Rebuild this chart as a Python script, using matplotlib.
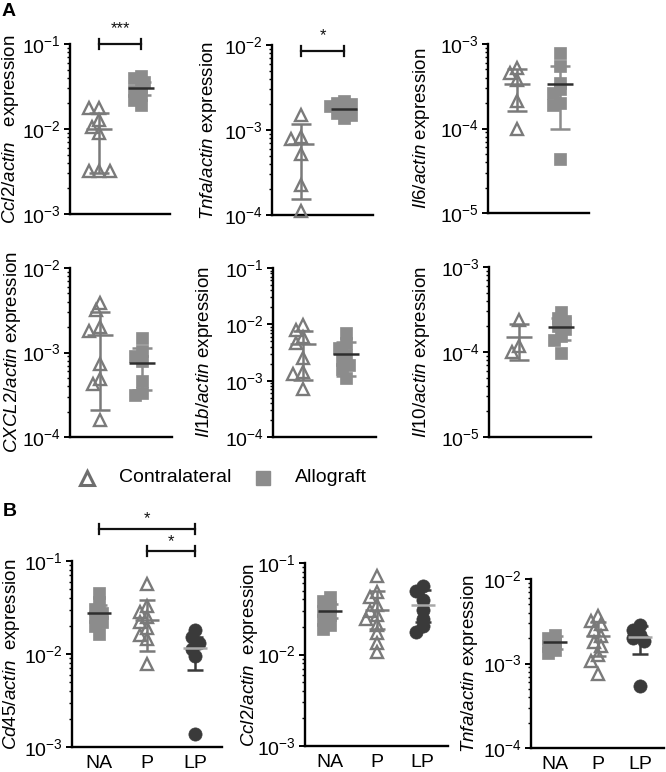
import numpy as np
import matplotlib
matplotlib.use('Agg')
import matplotlib.pyplot as plt

plt.rcParams['font.family'] = ['Liberation Sans', 'DejaVu Sans']
plt.rcParams['mathtext.fontset'] = 'custom'
plt.rcParams['mathtext.rm'] = 'Liberation Sans'
plt.rcParams['mathtext.it'] = 'Liberation Sans:italic'
plt.rcParams['mathtext.bf'] = 'Liberation Sans:bold'

# ---------------- data (panel A: Contralateral vs Allograft) ----------------
ccl2_contra = [0.0177, 0.0177, 0.0128, 0.0107, 0.0090, 0.0032, 0.0032, 0.0032]
ccl2_allo = [0.042, 0.040, 0.036, 0.031, 0.028, 0.025, 0.022, 0.019]
ccl2_contra_stats = [0.0100, 0.0030, 0.0153]   # mean, lower, upper
ccl2_allo_stats = [0.0300, 0.0250, 0.0360]

tnfa_contra = [0.0015, 0.00083, 0.00078, 0.00052, 0.000225, 0.00011]
tnfa_allo = [0.0022, 0.0021, 0.0020, 0.0019, 0.0017, 0.0016, 0.0015, 0.0014]
tnfa_contra_stats = [0.00068, 0.000155, 0.00117]
tnfa_allo_stats = [0.00177, 0.0015, 0.0020]

il6_contra = [0.00052, 0.00045, 0.00037, 0.00021, 0.0001]
il6_allo = [0.00078, 0.00055, 0.00035, 0.00029, 0.00026, 0.0002, 0.00019, 0.000044]
il6_contra_stats = [0.000333, 0.00016, 0.0005]
il6_allo_stats = [0.000333, 0.0001, 0.00055]

cxcl2_contra = [0.0039, 0.0032, 0.0020, 0.0018, 0.00073, 0.00048, 0.00042, 0.00016]
cxcl2_allo = [0.0015, 0.00103, 0.0009, 0.00079, 0.00046, 0.00033, 0.00031]
cxcl2_contra_stats = [0.00161, 0.00021, 0.0030]
cxcl2_allo_stats = [0.00075, 0.00036, 0.00113]

il1b_contra = [0.0098, 0.0080, 0.0060, 0.0046, 0.0025, 0.00145, 0.00134, 0.0007]
il1b_allo = [0.0069, 0.0047, 0.0038, 0.0029, 0.0023, 0.0019, 0.0016, 0.0011]
il1b_contra_stats = [0.0044, 0.00103, 0.0076]
il1b_allo_stats = [0.0030, 0.0012, 0.0049]

il10_contra = [0.000236, 0.000117, 0.0001]
il10_allo = [0.000293, 0.00025, 0.00023, 0.0002, 0.000184, 0.000153, 0.00014, 0.0000975]
il10_contra_stats = [0.000149, 0.0000815, 0.000214]
il10_allo_stats = [0.000195, 0.00014, 0.00025]

# ---------------- data (panel B: NA, P, LP) ----------------
groups_b = ['NA', 'P', 'LP']
cd45_na = [0.0453, 0.036, 0.0307, 0.0276, 0.025, 0.022, 0.0198, 0.0163]
cd45_p = [0.057, 0.033, 0.028, 0.025, 0.022, 0.019, 0.016, 0.0145, 0.0078]
cd45_lp = [0.0183, 0.0153, 0.0132, 0.0114, 0.0095, 0.00139]
cd45_na_stats = [0.0276, 0.022, 0.034]
cd45_p_stats = [0.023, 0.0108, 0.0384]
cd45_lp_stats = [0.0117, 0.0067, 0.0153]

ccl2b_na = [0.0425, 0.038, 0.033, 0.030, 0.027, 0.0237, 0.0209, 0.019]
ccl2b_p = [0.073, 0.048, 0.043, 0.0345, 0.030, 0.027, 0.0247, 0.0209, 0.017, 0.0132, 0.0107]
ccl2b_lp = [0.0556, 0.050, 0.039, 0.0305, 0.0247, 0.0204, 0.0177]
ccl2b_na_stats = [0.030, 0.025, 0.036]
ccl2b_p_stats = [0.031, 0.019, 0.0495]
ccl2b_lp_stats = [0.0345, 0.0227, 0.0503]

tnfab_na = [0.00219, 0.0020, 0.00178, 0.0016, 0.00145, 0.00133]
tnfab_p = [0.0036, 0.0032, 0.0029, 0.0025, 0.0021, 0.00178, 0.0016, 0.00127, 0.00106, 0.00076]
tnfab_lp = [0.00288, 0.0025, 0.0022, 0.0020, 0.00183, 0.00054]
tnfab_na_stats = [0.00178, 0.0015, 0.0021]
tnfab_p_stats = [0.00213, 0.00124, 0.0031]
tnfab_lp_stats = [0.00204, 0.00129, 0.0028]

# ---------------- styles ----------------
TRI = dict(marker='^', mfc='none', mec='#7a7a7a', mew=1.7, ms=8.5,
           err='#7a7a7a', meanc='#7a7a7a', dmin=8.0)
SQ = dict(marker='s', mfc='#8c8c8c', mec='#8c8c8c', mew=0.5, ms=8.5,
          err='#8c8c8c', meanc='#2e2e2e', dmin=6.5)
CIRC = dict(marker='o', mfc='#3a3a3a', mec='#3a3a3a', mew=0.5, ms=9.5,
            err='#3a3a3a', meanc='#a8a8a8', dmin=7.5)

W, H = 666, 772
fig = plt.figure(figsize=(W / 100, H / 100), dpi=100)


def add_ax(box):
    x0, y0, x1, y1 = box
    return fig.add_axes([x0 / W, 1 - y1 / H, (x1 - x0) / W, (y1 - y0) / H])


def swarm(vals, box, ylim, xlim, dmin=8.0, step=3.5):
    """Horizontal offsets (data units) so markers do not overlap."""
    x0, y0, x1, y1 = box
    ppd = (y1 - y0) / (np.log10(ylim[1]) - np.log10(ylim[0]))
    ppx = (x1 - x0) / (xlim[1] - xlim[0])
    ypx = np.log10(np.asarray(vals, float)) * ppd
    order = np.argsort(-ypx)
    placed = []
    offs = np.zeros(len(vals))
    cands = [0.0]
    for k in range(1, 12):
        cands += [-k * step, k * step]
    for i in order:
        for c in cands:
            ok = all(np.hypot(c - px, ypx[i] - py) >= dmin for px, py in placed)
            if ok:
                break
        placed.append((c, ypx[i]))
        offs[i] = c / ppx
    return offs


def draw_group(ax, box, ylim, xlim, pos, vals, stats, st, mean_hw_px=13, cap_hw_px=9):
    x0, y0, x1, y1 = box
    ppx = (x1 - x0) / (xlim[1] - xlim[0])
    offs = swarm(vals, box, ylim, xlim, dmin=st['dmin'])
    ax.plot(pos + offs, vals, linestyle='none', marker=st['marker'], mfc=st['mfc'],
            mec=st['mec'], mew=st['mew'], ms=st['ms'], zorder=3, clip_on=False)
    m, lo, hi = stats
    mhw = mean_hw_px / ppx
    chw = cap_hw_px / ppx
    ax.vlines(pos, lo, hi, color=st['err'], lw=1.8, zorder=4)
    ax.hlines([lo, hi], pos - chw, pos + chw, color=st['err'], lw=1.8, zorder=4)
    ax.hlines(m, pos - mhw, pos + mhw, color=st['meanc'], lw=1.8, zorder=5)


def style_axis(ax, ylim, xlim, ylabel, label_dx_px, box, xticklabels=None):
    ax.set_yscale('log')
    ax.set_ylim(*ylim)
    ax.set_xlim(*xlim)
    for s in ['top', 'right']:
        ax.spines[s].set_visible(False)
    for s in ['left', 'bottom']:
        ax.spines[s].set_linewidth(1.7)
    ax.tick_params(axis='y', which='major', direction='out', length=4.5, width=1.4,
                   labelsize=14, pad=2)
    ax.tick_params(axis='y', which='minor', direction='out', length=2.5, width=1.0)
    ax.yaxis.set_major_locator(matplotlib.ticker.LogLocator(base=10, numticks=10))
    ax.yaxis.set_minor_locator(matplotlib.ticker.LogLocator(base=10, subs=np.arange(2, 10), numticks=20))
    ax.yaxis.set_minor_formatter(matplotlib.ticker.NullFormatter())
    if xticklabels is None:
        ax.set_xticks([])
    else:
        ax.set_xticks(range(len(xticklabels)))
        ax.set_xticklabels(xticklabels, fontsize=14)
        ax.tick_params(axis='x', length=0, pad=6)
    ax.set_ylabel(ylabel, fontsize=13.5)
    w = box[2] - box[0]
    ax.yaxis.set_label_coords(label_dx_px / w, 0.5)


def bracket(ax, box, xa, xb, above_px, text, star_px=14):
    h = box[3] - box[1]
    yf = 1 + above_px / h
    tick = 5 / h
    tr = ax.get_xaxis_transform()
    ax.plot([xa, xb], [yf, yf], color='#111111', lw=1.6, transform=tr, clip_on=False)
    ax.plot([xa, xa], [yf - tick, yf + tick], color='#111111', lw=1.6, transform=tr, clip_on=False)
    ax.plot([xb, xb], [yf - tick, yf + tick], color='#111111', lw=1.6, transform=tr, clip_on=False)
    ax.text((xa + xb) / 2, yf + star_px / h, text, transform=tr, ha='center', va='center',
            fontsize=12, color='#111111')


# ---------------- panel A ----------------
XL_A = (-0.7, 1.7)
panelA = [
    ((70, 44, 170, 214), (1e-3, 1e-1), r'$\mathit{Ccl2/actin}$   expression', -49,
     ccl2_contra, ccl2_contra_stats, ccl2_allo, ccl2_allo_stats, ('***', 0)),
    ((272, 45, 373, 215), (1e-4, 1e-2), r'$\mathit{Tnfa/actin}$ expression', -53,
     tnfa_contra, tnfa_contra_stats, tnfa_allo, tnfa_allo_stats, ('*', -6)),
    ((488, 44, 589, 213), (1e-5, 1e-3), r'$\mathit{Il6/actin}$ expression', -56,
     il6_contra, il6_contra_stats, il6_allo, il6_allo_stats, None),
    ((70, 268, 172, 437), (1e-4, 1e-2), r'$\mathit{CXCL2/actin}$ expression', -47,
     cxcl2_contra, cxcl2_contra_stats, cxcl2_allo, cxcl2_allo_stats, None),
    ((273, 268, 376, 437), (1e-4, 1e-1), r'$\mathit{Il1b/actin}$ expression', -58,
     il1b_contra, il1b_contra_stats, il1b_allo, il1b_allo_stats, None),
    ((489, 267, 591, 437), (1e-5, 1e-3), r'$\mathit{Il10/actin}$ expression', -57,
     il10_contra, il10_contra_stats, il10_allo, il10_allo_stats, None),
]

for box, ylim, ylabel, ldx, cv, cs, av, ast, sig in panelA:
    ax = add_ax(box)
    style_axis(ax, ylim, XL_A, ylabel, ldx, box)
    draw_group(ax, box, ylim, XL_A, 0, cv, cs, TRI, mean_hw_px=13, cap_hw_px=10)
    draw_group(ax, box, ylim, XL_A, 1, av, ast, SQ, mean_hw_px=13, cap_hw_px=10)
    if sig is not None:
        bracket(ax, box, 0, 1, sig[1], sig[0], star_px=15)

# ---------------- panel B ----------------
XL_B = (-0.55, 2.55)
panelB = [
    ((72, 561, 222, 747), (1e-3, 1e-1), r'$\mathit{Cd45/actin}$  expression', -50,
     [cd45_na, cd45_p, cd45_lp], [cd45_na_stats, cd45_p_stats, cd45_lp_stats]),
    ((305, 563, 448, 746), (1e-3, 1e-1), r'$\mathit{Ccl2/actin}$  expression', -45,
     [ccl2b_na, ccl2b_p, ccl2b_lp], [ccl2b_na_stats, ccl2b_p_stats, ccl2b_lp_stats]),
    ((531, 579, 664, 748), (1e-4, 1e-2), r'$\mathit{Tnfa/actin}$ expression', -51,
     [tnfab_na, tnfab_p, tnfab_lp], [tnfab_na_stats, tnfab_p_stats, tnfab_lp_stats]),
]
styles_b = [SQ, TRI, CIRC]
for i, (box, ylim, ylabel, ldx, vals, stats) in enumerate(panelB):
    ax = add_ax(box)
    style_axis(ax, ylim, XL_B, ylabel, ldx, box, xticklabels=groups_b)
    for g in range(3):
        draw_group(ax, box, ylim, XL_B, g, vals[g], stats[g], styles_b[g],
                   mean_hw_px=12, cap_hw_px=8)
    if i == 0:
        bracket(ax, box, 0, 2, 32, '*', star_px=10)
        bracket(ax, box, 1, 2, 10, '*', star_px=9)

# ---------------- legend & panel letters ----------------
ov = fig.add_axes([0, 0, 1, 1], zorder=-1)
ov.set_xlim(0, W)
ov.set_ylim(H, 0)
ov.axis('off')
ov.plot([87], [478], linestyle='none', marker='^', mfc='none', mec='#6e6e6e', mew=2.2, ms=10)
ov.text(119, 478, 'Contralateral', fontsize=14, va='center', ha='left')
ov.plot([263], [478], linestyle='none', marker='s', mfc='#8c8c8c', mec='#8c8c8c', ms=10)
ov.text(295, 478, 'Allograft', fontsize=14, va='center', ha='left')
fig.text(2 / W, 1 - 3 / H, 'A', fontsize=14, fontweight='bold', va='top', ha='left')
fig.text(3 / W, 1 - 503 / H, 'B', fontsize=14, fontweight='bold', va='top', ha='left')

fig.savefig('out.png', dpi=100)
